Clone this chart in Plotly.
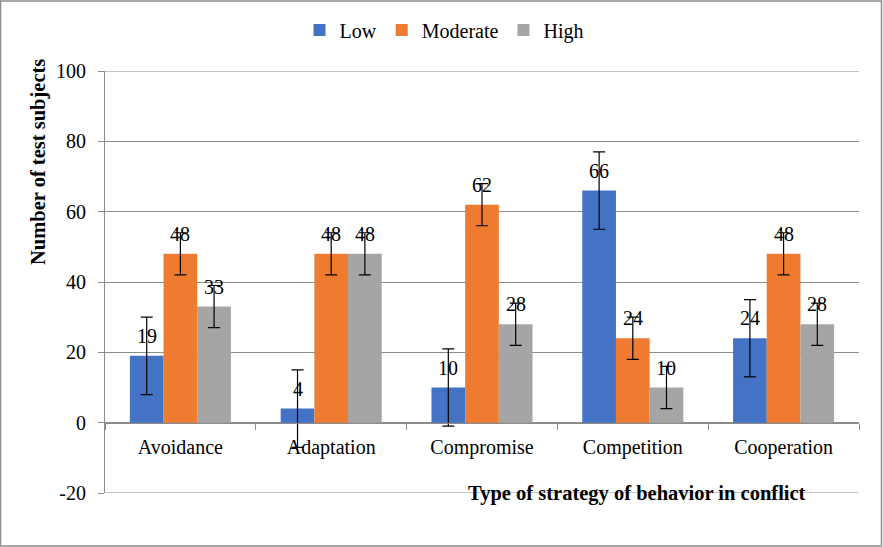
import plotly.graph_objects as go

categories = ["Avoidance", "Adaptation", "Compromise", "Competition", "Cooperation"]
series_names = ["Low", "Moderate", "High"]
low = [19, 4, 10, 66, 24]
moderate = [48, 48, 62, 24, 48]
high = [33, 48, 28, 10, 28]
low_err = [11, 11, 11, 11, 11]
moderate_err = [6, 6, 6, 6, 6]
high_err = [6, 6, 6, 6, 6]
y_ticks = [-20, 0, 20, 40, 60, 80, 100]
y_tick_labels = ["-20", "0", "20", "40", "60", "80", "100"]

colors = ["#4472C4", "#EE7B30", "#A5A5A5"]
values = [low, moderate, high]
errors = [low_err, moderate_err, high_err]

FONT = "Liberation Serif, Times New Roman, Times, DejaVu Serif, serif"
W, H = 883, 547
ML, MR, MT, MB = 105, 24, 71, 54
plot_w = W - ML - MR
plot_h = H - MT - MB

fig = go.Figure()
for name, vals, errs, col in zip(series_names, values, errors, colors):
    fig.add_trace(go.Bar(
        name=name, x=categories, y=vals, marker=dict(color=col, line=dict(width=0)),
        error_y=dict(type="data", array=errs, visible=True, color="black", thickness=1.2, width=6),
    ))

bargap = 0.33
cat_w = plot_w / len(categories)
bar_w = cat_w * (1 - bargap) / 3
annotations = []
for i, vals in enumerate(values):
    for c, v in zip(categories, vals):
        annotations.append(dict(
            x=c, y=v, xref="x", yref="y", text=str(v), showarrow=False,
            xshift=(i - 1) * bar_w, yshift=20, yanchor="middle",
            font=dict(family=FONT, size=20, color="black"),
        ))

annotations.append(dict(
    x=(637 - ML) / plot_w, y=0, xref="paper", yref="paper",
    text="<b>Type of strategy of behavior in conflict</b>", showarrow=False,
    xanchor="center", yanchor="middle", font=dict(family=FONT, size=20.5, color="black"),
))
annotations.append(dict(
    x=(38 - ML) / plot_w, y=(H - MB - 162) / plot_h, xref="paper", yref="paper",
    text="<b>Number of test subjects</b>", showarrow=False, textangle=-90,
    xanchor="center", yanchor="middle", font=dict(family=FONT, size=20.5, color="black"),
))

shapes = [
    dict(type="rect", xref="paper", yref="paper",
         x0=(0.5 - ML) / plot_w, x1=(W - 1.5 - ML) / plot_w,
         y0=(-MB + 1) / plot_h, y1=(plot_h + MT - 1) / plot_h,
         line=dict(color="#8c8c8c", width=1.5), fillcolor="rgba(0,0,0,0)", layer="below"),
    dict(type="line", xref="paper", yref="y", x0=0, x1=1, y0=y_ticks[0], y1=y_ticks[0],
         line=dict(color="#8c8c8c", width=1), layer="below"),
    dict(type="line", xref="paper", yref="y", x0=0, x1=1, y0=y_ticks[-1], y1=y_ticks[-1],
         line=dict(color="#8c8c8c", width=1), layer="below"),
]

fig.update_layout(
    width=W, height=H,
    margin=dict(l=ML, r=MR, t=MT, b=MB, autoexpand=False),
    paper_bgcolor="white", plot_bgcolor="white",
    barmode="group", bargap=bargap, bargroupgap=0,
    hovermode=False,
    font=dict(family=FONT, size=20, color="black"),
    legend=dict(orientation="h", x=(444 - ML) / plot_w, xanchor="center",
                y=(H - MB - 30) / plot_h, yanchor="middle",
                font=dict(family=FONT, size=20, color="black"), itemwidth=30,
                bgcolor="rgba(0,0,0,0)"),
    showlegend=True,
    annotations=annotations,
    shapes=shapes,
)

fig.update_yaxes(
    range=[y_ticks[0], y_ticks[-1]], tickvals=y_ticks, ticktext=y_tick_labels,
    showgrid=True, gridcolor="#8c8c8c", gridwidth=1,
    zeroline=False, showline=True, linecolor="#8c8c8c", linewidth=1, automargin=False,
    ticks="outside", ticklen=6, tickcolor="#8c8c8c", ticklabelstandoff=8,
    tickfont=dict(family=FONT, size=20, color="black"),
)
fig.update_xaxes(
    anchor="free", position=20 / 120, showgrid=False, showline=True, automargin=False,
    linecolor="#8c8c8c", linewidth=1, ticks="outside", ticklen=6, tickcolor="#8c8c8c",
    tickson="boundaries", ticklabelstandoff=6,
    tickfont=dict(family=FONT, size=20, color="black"),
)

fig.write_html(
    "out.html",
    config={"displayModeBar": False},
    post_script="document.body.style.margin='0';document.body.style.padding='0';"
                "document.documentElement.style.margin='0';document.body.style.overflow='hidden';",
)
